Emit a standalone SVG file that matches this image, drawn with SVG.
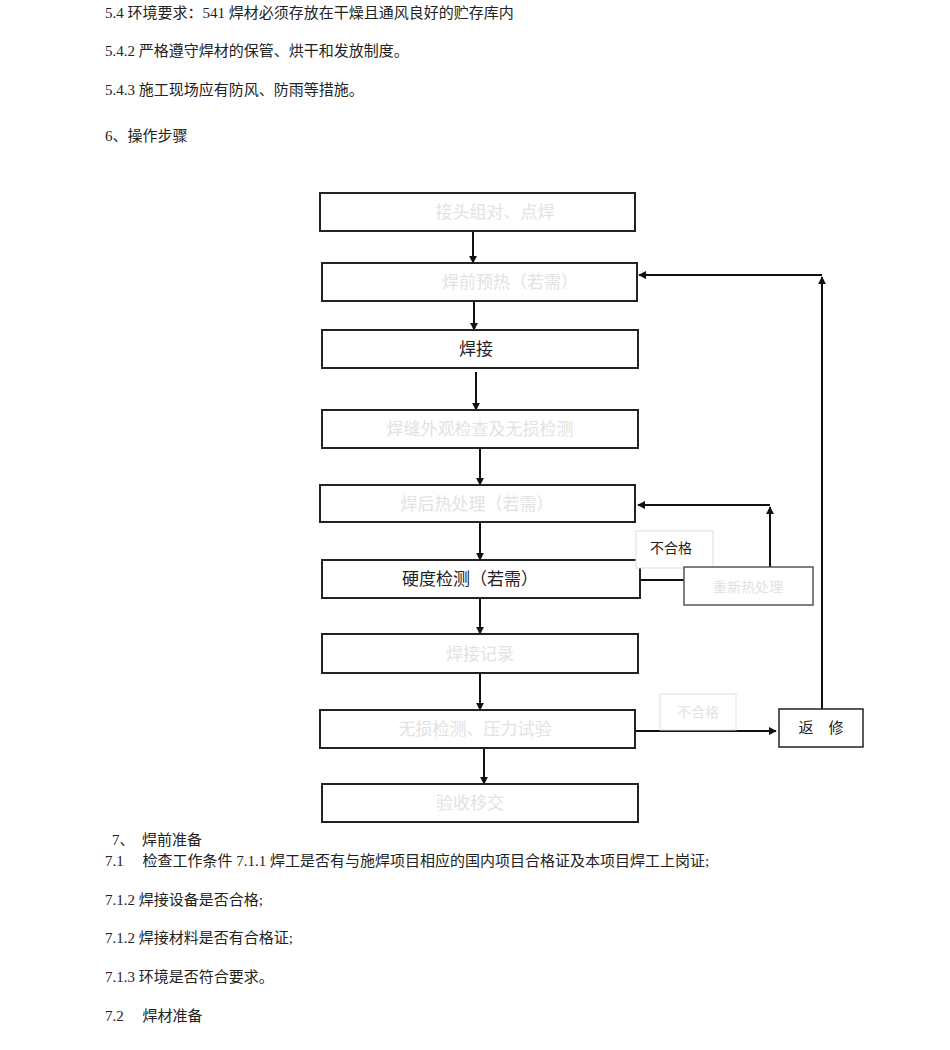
<svg xmlns="http://www.w3.org/2000/svg" width="950" height="1050" viewBox="0 0 950 1050">
<defs>
<marker id="ah" viewBox="0 0 10 10" refX="9" refY="5" markerWidth="8" markerHeight="8" orient="auto" markerUnits="userSpaceOnUse"><path d="M0,0L10,5L0,10z" fill="#111"/></marker>
<style>
text{font-family:"Liberation Serif","Noto Sans CJK SC",serif;fill:#222}
.p{font-size:15px}
.b{fill:#fff;stroke:#222;stroke-width:2}
.f{fill:#fff;stroke:#ddd;stroke-width:1}
.n{font-size:17px;text-anchor:middle}
.g{fill:#e2e2e2}
.c{fill:none;stroke:#111;stroke-width:2;marker-end:url(#ah)}
.l{fill:none;stroke:#111;stroke-width:2}
</style>
</defs>
<rect width="950" height="1050" fill="#fff"/>
<text class="p" x="105" y="18">5.4 环境要求：541 焊材必须存放在干燥且通风良好的贮存库内</text>
<text class="p" x="105" y="56">5.4.2 严格遵守焊材的保管、烘干和发放制度。</text>
<text class="p" x="105" y="95">5.4.3 施工现场应有防风、防雨等措施。</text>
<text class="p" x="105" y="141">6、操作步骤</text>
<g id="connectors">
<path class="c" d="M473,231V263"/>
<path class="c" d="M474,301V330"/>
<path class="c" d="M476,372V410"/>
<path class="c" d="M480,448V485"/>
<path class="c" d="M480,522V560"/>
<path class="c" d="M480,598V634"/>
<path class="c" d="M480,673V710"/>
<path class="c" d="M484,748V784"/>
<path class="l" d="M640,580H705"/>
<path class="c" d="M770,567V507"/>
<path class="c" d="M770,505H638"/>
<path class="c" d="M635,731H776"/>
<path class="c" d="M822,709V277"/>
<path class="c" d="M822,275H639"/>
</g>
<g id="n1"><rect class="b" x="320" y="193" width="315" height="38"/><text class="n g" x="495" y="218">接头组对、点焊</text></g>
<g id="n2"><rect class="b" x="322" y="263" width="315" height="38"/><text class="n g" x="510" y="288">焊前预热（若需）</text></g>
<g id="n3"><rect class="b" x="322" y="330" width="316" height="38"/><text class="n" x="476" y="355">焊接</text></g>
<g id="n4"><rect class="b" x="322" y="410" width="316" height="38"/><text class="n g" x="480" y="435">焊缝外观检查及无损检测</text></g>
<g id="n5"><rect class="b" x="320" y="485" width="315" height="37"/><text class="n g" x="477" y="510">焊后热处理（若需）</text></g>
<g id="n6"><rect class="b" x="322" y="560" width="318" height="38"/><text class="n" x="470" y="585">硬度检测（若需）</text></g>
<g id="n7"><rect class="b" x="322" y="634" width="316" height="39"/><text class="n g" x="480" y="660">焊接记录</text></g>
<g id="n8"><rect class="b" x="320" y="710" width="315" height="38"/><text class="n g" x="475" y="735">无损检测、压力试验</text></g>
<g id="n9"><rect class="b" x="322" y="784" width="316" height="38"/><text class="n g" x="470" y="809">验收移交</text></g>
<g id="lab1"><rect class="f" x="636" y="531" width="77" height="37"/><text class="n" x="671" y="553" style="font-size:14px">不合格</text></g>
<g id="n10"><rect class="b" x="684" y="567" width="129" height="38" style="stroke:#555;stroke-width:1.5"/><text class="n g" x="748" y="592" style="font-size:14px">重新热处理</text></g>
<g id="lab2"><rect class="f" x="660" y="694" width="76" height="36"/><text class="n g" x="698" y="717" style="font-size:14px">不合格</text></g>
<g id="n11"><rect class="b" x="779" y="709" width="84" height="38" style="stroke-width:1.5"/><text class="n" x="821" y="733" style="font-size:15px">返　修</text></g>
<text class="p" x="112" y="845">7、　焊前准备</text>
<text class="p" x="105" y="866">7.1　 检查工作条件 7.1.1 焊工是否有与施焊项目相应的国内项目合格证及本项目焊工上岗证;</text>
<text class="p" x="105" y="905">7.1.2 焊接设备是否合格;</text>
<text class="p" x="105" y="943">7.1.2 焊接材料是否有合格证;</text>
<text class="p" x="105" y="982">7.1.3 环境是否符合要求。</text>
<text class="p" x="105" y="1021">7.2　 焊材准备</text>
</svg>
